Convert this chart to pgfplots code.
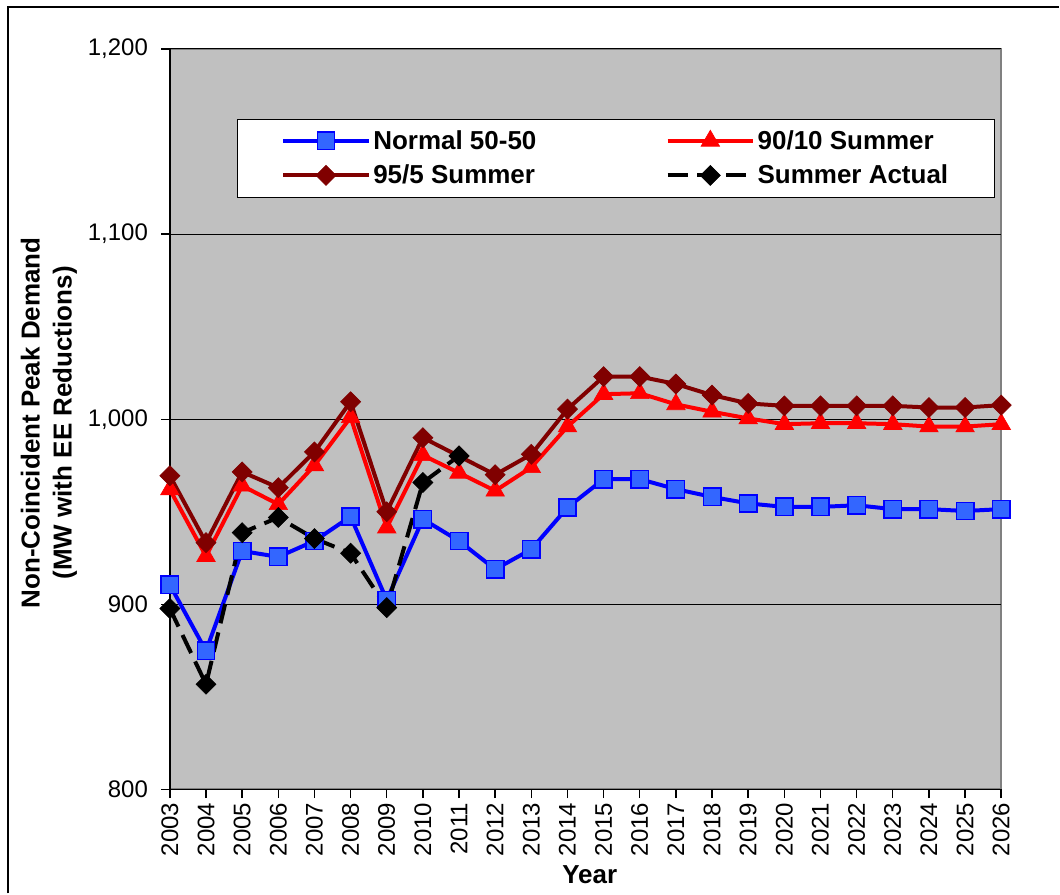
\documentclass[border=0pt]{standalone}
\usepackage{pgfplots}
\pgfplotsset{compat=1.18}
\usepackage{fontspec}
\setmainfont{Liberation Sans}
\definecolor{bgc}{HTML}{C0C0C0}
\definecolor{sqfill}{HTML}{3366FF}
\definecolor{dred}{HTML}{800000}
\definecolor{bordergray}{HTML}{808080}
\begin{document}
\begin{tikzpicture}
\begin{axis}[
  name=ax,
  at={(0,0)}, anchor=south west,
  scale only axis,
  width=624pt, height=555.75pt,
  xmin=2003, xmax=2026,
  ymin=800, ymax=1200,
  xtick={2003,2004,...,2026},
  ytick={800,900,1000,1100,1200},
  ymajorgrids,
  grid style={black, line width=0.7pt},
  axis background/.style={fill=bgc, draw=bordergray, line width=1.5pt},
  axis x line*=bottom, axis y line*=left,
  axis line style={-, black, line width=1.3pt},
  tick align=outside,
  major tick length=6.5pt,
  tick style={black, line width=1pt},
  /pgf/number format/assume math mode=true,
  xticklabel style={rotate=90, anchor=east, font=\fontsize{18}{18}\selectfont, /pgf/number format/1000 sep={}},
  yticklabel style={xshift=-6.5pt, font=\fontsize{18}{18}\selectfont, /pgf/number format/1000 sep={,}},
  every axis x label/.style={at={(axis description cs:0.505,-0.1147)}, anchor=center},
  every axis y label/.style={at={(axis description cs:-0.1454,0.495)}, rotate=90, anchor=center, align=center},
  label style={font=\bfseries\fontsize{19.5}{24}\selectfont},
  xlabel={Year},
  ylabel={Non-Coincident Peak Demand\\(MW with EE Reductions)},
  legend columns=2,
  legend cell align=left,
  legend image code/.code={\draw[mark repeat=2,mark phase=2,#1] plot coordinates {(0pt,0pt) (32pt,0pt) (64pt,0pt)};},
  legend style={at={(axis description cs:0.0805,0.906)}, anchor=north west,
    draw=black, fill=white, line width=0.9pt,
    font=\bfseries\fontsize{19.5}{20}\selectfont,
    inner xsep=33pt, inner ysep=6.5pt, row sep=6.3pt,
    /tikz/every even column/.append style={column sep=95pt}},
]
\addplot[blue, line width=3pt, mark=square*, mark size=6.5pt, mark options={fill=sqfill, draw=blue, line width=1.2pt}]
coordinates {(2003,910.5)(2004,874.8)(2005,928.8)(2006,925.6)(2007,934.2)(2008,947.4)(2009,902.3)(2010,946)(2011,934.2)(2012,918.9)(2013,929.7)(2014,952.3)(2015,967.6)(2016,967.6)(2017,962.2)(2018,958)(2019,954.5)(2020,952.6)(2021,952.6)(2022,953.5)(2023,951.4)(2024,951.4)(2025,950.4)(2026,951.4)};
\addlegendentry{Normal 50-50}
\addplot[red, line width=3pt, mark=triangle*, mark size=8pt, mark options={fill=red, draw=red, line width=0.5pt}]
coordinates {(2003,962)(2004,926)(2005,964)(2006,954)(2007,975)(2008,1001)(2009,941.4)(2010,980.5)(2011,971)(2012,961.3)(2013,974)(2014,996)(2015,1013.5)(2016,1014)(2017,1008)(2018,1004)(2019,1000.4)(2020,997.3)(2021,997.8)(2022,997.8)(2023,997.3)(2024,996)(2025,996)(2026,997.3)};
\addlegendentry{90/10 Summer}
\addplot[dred, line width=3pt, mark=square*, mark size=5.3pt, mark options={rotate=45, fill=dred, draw=dred, line width=0.5pt}]
coordinates {(2003,969.4)(2004,933.3)(2005,971.5)(2006,963)(2007,982.3)(2008,1009.4)(2009,950)(2010,990)(2011,980)(2012,970)(2013,981)(2014,1005.4)(2015,1023)(2016,1023)(2017,1019)(2018,1013)(2019,1008.5)(2020,1007.2)(2021,1007.2)(2022,1007.2)(2023,1007.2)(2024,1006.3)(2025,1006.3)(2026,1007.6)};
\addlegendentry{95/5 Summer}
\addplot[black, line width=3pt, dash pattern=on 15pt off 7pt, mark=square*, mark size=5.3pt, mark options={solid, rotate=45, fill=black, draw=black, line width=0.5pt}]
coordinates {(2003,897.7)(2004,856.8)(2005,938.7)(2006,946.9)(2007,935.5)(2008,927.6)(2009,898.2)(2010,965.8)(2011,980.2)};
\addlegendentry{Summer Actual}
\end{axis}
\begin{scope}[shift={(ax.south west)}]
\path (-127.5pt,-78pt) rectangle (667.5pt,592.5pt);
\draw[black, line width=1.2pt] (-121.5pt,-78pt) -- (-121.5pt,587.25pt) -- (667.5pt,587.25pt);
\end{scope}
\end{tikzpicture}
\end{document}
